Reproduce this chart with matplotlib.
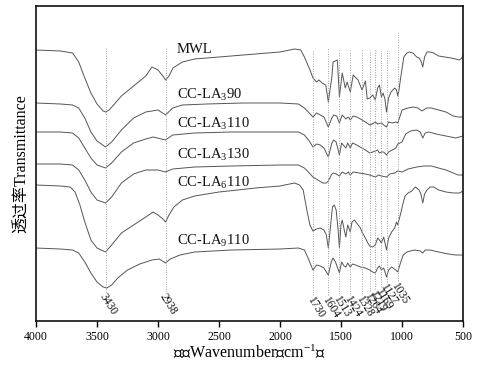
import matplotlib
matplotlib.use("Agg")
import matplotlib.pyplot as plt
import numpy as np

plt.rcParams['mathtext.fontset'] = 'custom'
plt.rcParams['mathtext.rm'] = 'Liberation Serif'
plt.rcParams['mathtext.it'] = 'Liberation Serif:italic'
plt.rcParams['font.family'] = ['Liberation Serif', 'Noto Sans CJK SC']

# ---------------- data (wavenumber cm-1, relative transmittance, offset) -------------
mwl_wn = [4000, 3800, 3700, 3650, 3600, 3550, 3500, 3450, 3430, 3400, 3350, 3300, 3200, 3100,
          3050, 3000, 2960, 2938, 2910, 2877, 2800, 2700, 2500, 2200, 2000, 1880, 1830, 1800,
          1754, 1730, 1700, 1680, 1655, 1625, 1604, 1575, 1565, 1530, 1513, 1490, 1465, 1450,
          1424, 1400, 1360, 1328, 1300, 1285, 1264, 1240, 1219, 1200, 1185, 1169, 1155, 1140,
          1127, 1110, 1090, 1060, 1045, 1035, 1025, 1010, 995, 985, 960, 940, 910, 880, 860,
          845, 830, 815, 795, 770, 740, 700, 650, 600, 560, 530, 510, 500]
mwl_t = [271, 270, 268, 259, 243, 228, 217, 210, 209, 211, 218, 225, 235, 245,
         254, 251, 245, 241, 245, 253, 259, 262, 264, 267, 269, 272, 271, 264,
         251, 243, 239, 241, 238, 236, 219, 244, 259, 261, 224, 248, 233, 239,
         229, 246, 241, 231, 240, 222, 223, 226, 221, 233, 236, 224, 228, 222,
         209, 223, 229, 233, 231, 225, 231, 244, 256, 264, 268, 269, 268, 264, 263,
         260, 254, 264, 269, 269, 268, 265, 264, 263, 262, 261, 263, 266]

la3_90_wn = [4000, 3800, 3700, 3650, 3600, 3550, 3500, 3430, 3380, 3300, 3200, 3100, 3000,
             2938, 2880, 2800, 2600, 2300, 2000, 1850, 1800, 1760, 1730, 1700, 1670, 1640,
             1604, 1575, 1560, 1535, 1513, 1490, 1460, 1440, 1424, 1400, 1370, 1340, 1300,
             1264, 1230, 1219, 1200, 1169, 1150, 1127, 1110, 1080, 1050, 1035, 1010, 1000,
             950, 910, 870, 836, 800, 760, 700, 640, 580, 540, 500]
la3_90_t = [218, 217, 216, 213, 203, 189, 180, 174, 179, 191, 203, 209, 211,
            206, 213, 216, 217, 218, 218, 217, 213, 208, 204, 208, 206, 204,
            194, 203, 206, 205, 198, 206, 202, 204, 201, 205, 204, 202, 199,
            196, 198, 199, 197, 198, 196, 194, 199, 198, 199, 198, 207, 211,
            213, 214, 213, 210, 213, 213, 211, 209, 205, 204, 204]

la3_110_wn = [4000, 3800, 3700, 3650, 3600, 3550, 3500, 3430, 3380, 3300, 3200, 3100, 3040,
              2938, 2880, 2700, 2400, 2000, 1850, 1800, 1760, 1730, 1700, 1670, 1640, 1604,
              1575, 1560, 1540, 1513, 1495, 1475, 1460, 1445, 1424, 1405, 1370, 1330, 1300,
              1264, 1240, 1219, 1200, 1185, 1169, 1150, 1127, 1110, 1080, 1050, 1035, 1000,
              970, 930, 880, 850, 830, 810, 780, 720, 640, 560, 500]
la3_110_t = [189, 189, 188, 183, 173, 163, 156, 153, 158, 169, 178, 182, 184,
             181, 186, 188, 189, 189, 189, 186, 180, 174, 177, 176, 173, 164,
             178, 181, 179, 166, 178, 175, 173, 178, 173, 178, 176, 173, 171,
             168, 169, 170, 171, 168, 169, 169, 166, 169, 171, 173, 177, 179,
             187, 190, 191, 189, 183, 188, 189, 187, 185, 183, 185]

la3_130_wn = [4000, 3800, 3700, 3650, 3600, 3550, 3500, 3430, 3380, 3300, 3200, 3100, 3000,
              2938, 2880, 2700, 2400, 2000, 1850, 1800, 1760, 1730, 1690, 1650, 1620, 1604,
              1575, 1560, 1540, 1513, 1490, 1460, 1440, 1424, 1400, 1350, 1300, 1264, 1219,
              1190, 1169, 1127, 1100, 1060, 1035, 1000, 950, 880, 820, 760, 700, 640, 580,
              540, 500]
la3_130_t = [157, 157, 156, 151, 141, 129, 121, 118, 124, 138, 147, 151, 151,
             149, 152, 154, 155, 156, 156, 153, 148, 144, 141, 138, 138, 140,
             147, 148, 147, 145, 149, 147, 149, 146, 149, 148, 147, 146, 144,
             146, 145, 144, 147, 148, 150, 149, 152, 154, 155, 155, 153, 151, 148,
             146, 146]

la6_110_wn = [4000, 3800, 3720, 3680, 3640, 3600, 3550, 3500, 3430, 3380, 3300, 3200, 3100,
              3040, 3000, 2960, 2938, 2910, 2870, 2800, 2700, 2500, 2200, 2000, 1880, 1840,
              1810, 1780, 1755, 1730, 1700, 1670, 1640, 1620, 1604, 1585, 1570, 1555, 1540,
              1525, 1513, 1500, 1490, 1470, 1460, 1445, 1424, 1410, 1390, 1360, 1340, 1328,
              1300, 1280, 1264, 1240, 1219, 1200, 1185, 1169, 1150, 1127, 1110, 1085, 1060,
              1045, 1035, 1010, 995, 975, 950, 920, 890, 860, 845, 830, 815, 795, 770, 740,
              700, 640, 580, 530, 500]
la6_110_t = [136, 135, 134, 129, 116, 99, 81, 73, 69, 76, 88, 96, 104,
             109, 106, 102, 99, 106, 114, 121, 125, 129, 133, 135, 138, 136,
             131, 111, 96, 90, 92, 93, 91, 86, 73, 96, 114, 116, 111,
             93, 73, 96, 101, 89, 84, 96, 89, 99, 101, 96, 93, 89,
             83, 78, 75, 74, 76, 83, 81, 78, 84, 71, 83, 89, 93,
             99, 96, 108, 116, 125, 128, 130, 134, 131, 127, 118, 127, 131, 134, 134,
             131, 129, 128, 128, 130]

la9_110_wn = [4000, 3800, 3700, 3650, 3600, 3550, 3500, 3450, 3420, 3380, 3330, 3250, 3150,
              3050, 2990, 2938, 2900, 2820, 2700, 2400, 2000, 1850, 1800, 1770, 1750, 1730,
              1700, 1670, 1640, 1604, 1580, 1565, 1545, 1513, 1495, 1475, 1460, 1445, 1424,
              1405, 1380, 1340, 1300, 1264, 1240, 1219, 1200, 1185, 1169, 1150, 1127, 1110,
              1085, 1050, 1035, 1010, 990, 960, 900, 850, 830, 810, 770, 700, 620, 560, 500]
la9_110_t = [73, 72, 71, 68, 59, 48, 39, 34, 33, 36, 43, 51, 57,
             61, 62, 58, 62, 66, 69, 71, 72, 73, 71, 63, 57, 51,
             56, 55, 53, 46, 59, 63, 59, 48, 59, 55, 54, 58, 54,
             57, 56, 54, 53, 51, 49, 48, 53, 55, 51, 53, 44, 51,
             54, 51, 49, 59, 66, 69, 71, 70, 68, 71, 71, 69, 67, 66, 66]

series = [
    ("MWL", mwl_wn, mwl_t),
    (r"CC-LA$_3$90", la3_90_wn, la3_90_t),
    (r"CC-LA$_3$110", la3_110_wn, la3_110_t),
    (r"CC-LA$_3$130", la3_130_wn, la3_130_t),
    (r"CC-LA$_6$110", la6_110_wn, la6_110_t),
    (r"CC-LA$_9$110", la9_110_wn, la9_110_t),
]

peaks = [3430, 2938, 1730, 1604, 1513, 1424, 1328, 1264, 1219, 1169, 1127, 1035]
x_ticks = [4000, 3500, 3000, 2500, 2000, 1500, 1000, 500]

# ---------------- layout ----------------
label_level = [271, 226, 197, 166, 138, 80]
peak_top = [274, 274, 271, 273, 271, 271, 271, 271, 271, 271, 272, 289]
peak_label_y = [27, 27, 24, 24, 25, 25, 25, 28, 30, 32, 37, 38]

CJK = ['Liberation Serif', 'Noto Sans CJK SC']

fig = plt.figure(figsize=(4.82, 3.65), dpi=100)
ax = fig.add_axes([0.0747, 0.1205, 0.8859, 0.8631])

for (name, wn, t), ly in zip(series, label_level):
    ax.plot(wn, t, color='#555555', lw=0.7)
    ax.text(2844, ly, name, fontsize=10.5, ha='left', va='center',
            family=CJK, color='#111111')

for p, top, ly in zip(peaks, peak_top, peak_label_y):
    ax.plot([p, p], [ly + 2, top], color='#a0a0a0', lw=0.7, ls=(0, (1, 1.5)))
    ax.text(p + 30, ly, str(p), rotation=-58, rotation_mode='anchor', ha='left', va='center',
            fontsize=8.3, color='#111111')

ax.set_xlim(4000, 500)
ax.set_ylim(0, 315)
ax.set_xticks(x_ticks)
ax.set_xticklabels([str(v) for v in x_ticks], fontsize=8.5)
ax.set_yticks([])
ax.tick_params(axis='x', direction='out', length=4, width=1.0, pad=3)
for s in ax.spines.values():
    s.set_linewidth(1.2)
    s.set_color('#111111')

ax.set_xlabel('波数Wavenumber（cm$^{-1}$）', fontsize=11.5, labelpad=1, family=CJK)
ax.set_ylabel('透过率Transmittance', fontsize=11.5, labelpad=4, family=CJK)

fig.savefig('out.png', dpi=100)
